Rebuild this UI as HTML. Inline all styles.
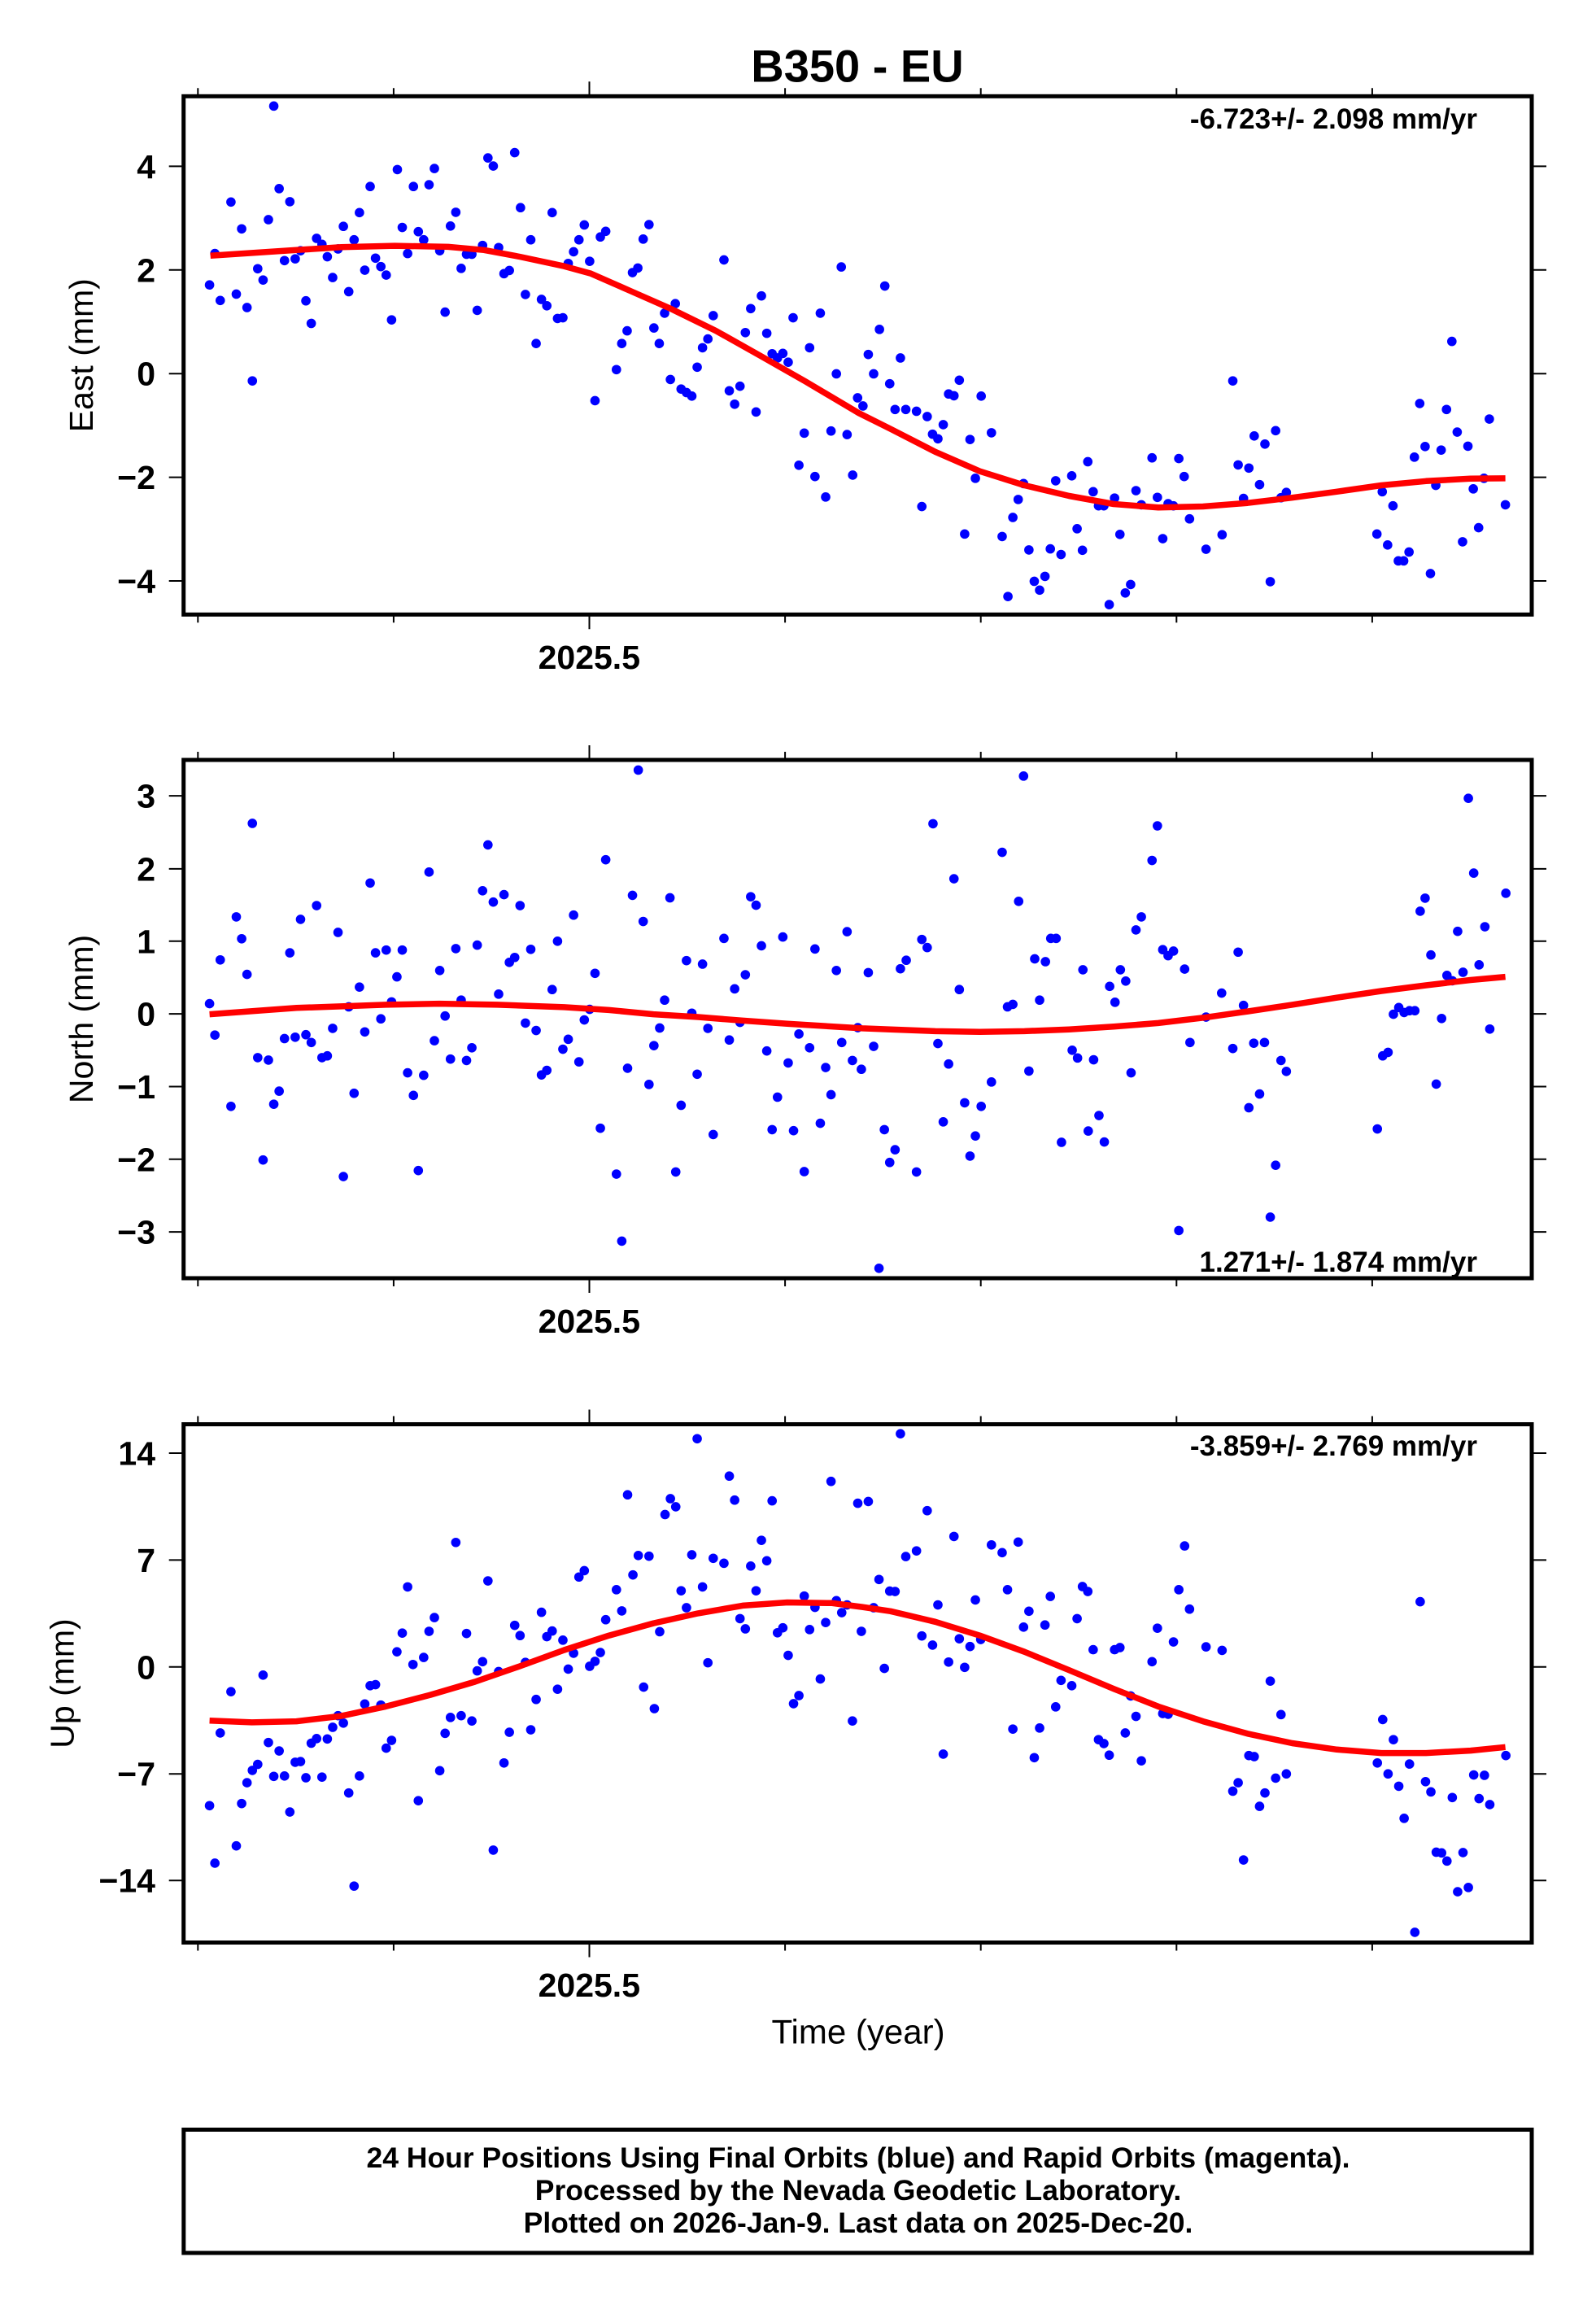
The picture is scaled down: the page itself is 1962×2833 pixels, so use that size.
<!DOCTYPE html>
<html>
<head>
<meta charset="utf-8">
<style>
html,body{margin:0;padding:0;background:#fff;}
svg{display:block;}
text{font-family:"Liberation Sans",Arial,Helvetica,sans-serif;fill:#000;}
.b{font-weight:bold;}
</style>
</head>
<body>
<svg width="1962" height="2833" viewBox="0 0 1962 2833" xmlns="http://www.w3.org/2000/svg">
<defs><ellipse id="d" cx="0" cy="0" rx="10.6" ry="13.4" fill="#0000ff"/></defs>
<rect width="1962" height="2833" fill="#fff"/>

<!-- Title -->
<text class="b" x="1054" y="100.7" font-size="56" text-anchor="middle">B350 - EU</text>

<!-- ================= PANEL 1 (East) ================= -->
<g transform="translate(200 100) scale(0.54846 0.43365)">
<use href="#d" x="249" y="70"/><use href="#d" x="789" y="202"/><use href="#d" x="729" y="217"/><use href="#d" x="741" y="240"/><use href="#d" x="526" y="250"/><use href="#d" x="609" y="247"/><use href="#d" x="261" y="304"/><use href="#d" x="465" y="298"/><use href="#d" x="562" y="298"/><use href="#d" x="597" y="293"/><use href="#d" x="153" y="342"/><use href="#d" x="285" y="341"/><use href="#d" x="441" y="372"/><use href="#d" x="657" y="371"/><use href="#d" x="873" y="372"/><use href="#d" x="802" y="358"/><use href="#d" x="237" y="392"/><use href="#d" x="177" y="418"/><use href="#d" x="405" y="411"/><use href="#d" x="537" y="414"/><use href="#d" x="645" y="410"/><use href="#d" x="945" y="407"/><use href="#d" x="1090" y="406"/><use href="#d" x="573" y="426"/><use href="#d" x="993" y="425"/><use href="#d" x="345" y="445"/><use href="#d" x="429" y="449"/><use href="#d" x="585" y="449"/><use href="#d" x="825" y="449"/><use href="#d" x="933" y="449"/><use href="#d" x="981" y="441"/><use href="#d" x="1077" y="447"/><use href="#d" x="357" y="462"/><use href="#d" x="393" y="475"/><use href="#d" x="717" y="465"/><use href="#d" x="753" y="471"/><use href="#d" x="117" y="488"/><use href="#d" x="309" y="480"/><use href="#d" x="621" y="480"/><use href="#d" x="549" y="488"/><use href="#d" x="681" y="490"/><use href="#d" x="693" y="490"/><use href="#d" x="921" y="483"/><use href="#d" x="369" y="497"/><use href="#d" x="273" y="508"/><use href="#d" x="297" y="503"/><use href="#d" x="477" y="501"/><use href="#d" x="909" y="516"/><use href="#d" x="957" y="510"/><use href="#d" x="1258" y="506"/><use href="#d" x="1521" y="526"/><use href="#d" x="213" y="531"/><use href="#d" x="489" y="525"/><use href="#d" x="453" y="535"/><use href="#d" x="669" y="530"/><use href="#d" x="501" y="549"/><use href="#d" x="765" y="545"/><use href="#d" x="777" y="536"/><use href="#d" x="1053" y="542"/><use href="#d" x="1065" y="529"/><use href="#d" x="105" y="577"/><use href="#d" x="225" y="563"/><use href="#d" x="381" y="556"/><use href="#d" x="165" y="603"/><use href="#d" x="129" y="621"/><use href="#d" x="417" y="596"/><use href="#d" x="813" y="604"/><use href="#d" x="1342" y="608"/><use href="#d" x="189" y="641"/><use href="#d" x="321" y="622"/><use href="#d" x="849" y="618"/><use href="#d" x="861" y="636"/><use href="#d" x="1149" y="630"/><use href="#d" x="1318" y="644"/><use href="#d" x="633" y="654"/><use href="#d" x="705" y="649"/><use href="#d" x="1125" y="657"/><use href="#d" x="1234" y="664"/><use href="#d" x="1474" y="657"/><use href="#d" x="1413" y="670"/><use href="#d" x="333" y="686"/><use href="#d" x="513" y="676"/><use href="#d" x="885" y="672"/><use href="#d" x="897" y="670"/><use href="#d" x="1041" y="707"/><use href="#d" x="1101" y="699"/><use href="#d" x="1306" y="712"/><use href="#d" x="1354" y="714"/><use href="#d" x="1222" y="730"/><use href="#d" x="837" y="743"/><use href="#d" x="1029" y="743"/><use href="#d" x="1113" y="743"/><use href="#d" x="1210" y="755"/><use href="#d" x="1450" y="755"/><use href="#d" x="1366" y="772"/><use href="#d" x="1378" y="784"/><use href="#d" x="1390" y="771"/><use href="#d" x="1402" y="796"/><use href="#d" x="1198" y="810"/><use href="#d" x="1510" y="829"/><use href="#d" x="1017" y="817"/><use href="#d" x="201" y="849"/><use href="#d" x="1138" y="845"/><use href="#d" x="1162" y="872"/><use href="#d" x="1174" y="882"/><use href="#d" x="1186" y="892"/><use href="#d" x="1294" y="864"/><use href="#d" x="1270" y="877"/><use href="#d" x="1282" y="915"/><use href="#d" x="969" y="905"/><use href="#d" x="1330" y="937"/><use href="#d" x="1438" y="997"/><use href="#d" x="1498" y="991"/><use href="#d" x="1534" y="1001"/><use href="#d" x="1426" y="1088"/><use href="#d" x="1462" y="1120"/><use href="#d" x="1486" y="1178"/>
</g>
<g transform="translate(1040 100) scale(0.54846 0.43365)">
<use href="#d" x="87" y="580"/><use href="#d" x="75" y="703"/><use href="#d" x="50" y="774"/><use href="#d" x="122" y="784"/><use href="#d" x="62" y="829"/><use href="#d" x="98" y="857"/><use href="#d" x="254" y="847"/><use href="#d" x="26" y="897"/><use href="#d" x="38" y="920"/><use href="#d" x="110" y="930"/><use href="#d" x="134" y="930"/><use href="#d" x="158" y="935"/><use href="#d" x="182" y="950"/><use href="#d" x="230" y="886"/><use href="#d" x="242" y="891"/><use href="#d" x="303" y="892"/><use href="#d" x="218" y="973"/><use href="#d" x="194" y="1000"/><use href="#d" x="206" y="1013"/><use href="#d" x="278" y="1015"/><use href="#d" x="326" y="996"/><use href="#d" x="15" y="1116"/><use href="#d" x="170" y="1205"/><use href="#d" x="290" y="1125"/><use href="#d" x="266" y="1283"/><use href="#d" x="350" y="1290"/><use href="#d" x="374" y="1236"/><use href="#d" x="386" y="1185"/><use href="#d" x="398" y="1140"/><use href="#d" x="410" y="1328"/><use href="#d" x="422" y="1417"/><use href="#d" x="434" y="1442"/><use href="#d" x="446" y="1403"/><use href="#d" x="363" y="1460"/><use href="#d" x="458" y="1325"/><use href="#d" x="470" y="1132"/><use href="#d" x="482" y="1341"/><use href="#d" x="506" y="1118"/><use href="#d" x="518" y="1268"/><use href="#d" x="530" y="1329"/><use href="#d" x="542" y="1078"/><use href="#d" x="554" y="1163"/><use href="#d" x="566" y="1203"/><use href="#d" x="578" y="1203"/><use href="#d" x="590" y="1483"/><use href="#d" x="602" y="1181"/><use href="#d" x="614" y="1284"/><use href="#d" x="626" y="1450"/><use href="#d" x="638" y="1426"/><use href="#d" x="650" y="1160"/><use href="#d" x="662" y="1200"/><use href="#d" x="686" y="1067"/><use href="#d" x="698" y="1179"/><use href="#d" x="710" y="1296"/><use href="#d" x="722" y="1197"/><use href="#d" x="734" y="1203"/><use href="#d" x="746" y="1069"/><use href="#d" x="758" y="1120"/><use href="#d" x="770" y="1240"/><use href="#d" x="807" y="1326"/><use href="#d" x="843" y="1285"/><use href="#d" x="867" y="849"/><use href="#d" x="879" y="1087"/><use href="#d" x="891" y="1182"/><use href="#d" x="903" y="1096"/><use href="#d" x="915" y="1005"/><use href="#d" x="927" y="1143"/><use href="#d" x="939" y="1028"/><use href="#d" x="951" y="1418"/><use href="#d" x="963" y="990"/><use href="#d" x="975" y="1180"/><use href="#d" x="987" y="1165"/><use href="#d" x="1190" y="1283"/><use href="#d" x="1202" y="1163"/><use href="#d" x="1214" y="1314"/><use href="#d" x="1226" y="1203"/><use href="#d" x="1238" y="1359"/><use href="#d" x="1250" y="1359"/><use href="#d" x="1262" y="1334"/><use href="#d" x="1274" y="1065"/><use href="#d" x="1286" y="913"/><use href="#d" x="1298" y="1035"/><use href="#d" x="1310" y="1395"/><use href="#d" x="1322" y="1145"/><use href="#d" x="1334" y="1045"/><use href="#d" x="1346" y="930"/><use href="#d" x="1358" y="737"/><use href="#d" x="1370" y="994"/><use href="#d" x="1382" y="1305"/><use href="#d" x="1394" y="1034"/><use href="#d" x="1406" y="1155"/><use href="#d" x="1418" y="1265"/><use href="#d" x="1430" y="1125"/><use href="#d" x="1442" y="957"/><use href="#d" x="1478" y="1200"/>
</g>
<path d="M258.7 314.2 L364.5 307.3 L419.4 303.8 L485.2 302.1 L551 303.4 L594.9 307.3 L638.8 315.5 L693.6 327.2 L726.5 336.3 L775.9 358 L825.2 379.7 L880.1 406.6 L934.9 437.4 L989.8 468.6 L1055.6 507.6 L1094.8 527.2 L1149.7 555.3 L1204.5 579.2 L1259.4 596.5 L1314.2 609.5 L1369.1 619.5 L1423.9 623.8 L1478.8 622.5 L1533.6 618.2 L1588.5 611.7 L1643.3 604.3 L1698.2 596.5 L1753 591.3 L1807.8 588.3 L1850.6 587.9" fill="none" stroke="#ff0000" stroke-width="7.5" stroke-linejoin="round"/>

<!-- ================= PANEL 2 (North) ================= -->
<g transform="translate(200 917) scale(0.54846 0.43365)">
<use href="#d" x="1066" y="68"/><use href="#d" x="201" y="219"/><use href="#d" x="729" y="280"/><use href="#d" x="993" y="322"/><use href="#d" x="597" y="357"/><use href="#d" x="465" y="388"/><use href="#d" x="717" y="410"/><use href="#d" x="741" y="442"/><use href="#d" x="765" y="421"/><use href="#d" x="801" y="452"/><use href="#d" x="1053" y="423"/><use href="#d" x="1137" y="430"/><use href="#d" x="1318" y="427"/><use href="#d" x="1330" y="451"/><use href="#d" x="345" y="452"/><use href="#d" x="165" y="484"/><use href="#d" x="309" y="491"/><use href="#d" x="921" y="479"/><use href="#d" x="1077" y="497"/><use href="#d" x="393" y="528"/><use href="#d" x="177" y="546"/><use href="#d" x="1258" y="545"/><use href="#d" x="1390" y="541"/><use href="#d" x="1534" y="526"/><use href="#d" x="885" y="553"/><use href="#d" x="705" y="564"/><use href="#d" x="657" y="574"/><use href="#d" x="825" y="576"/><use href="#d" x="537" y="578"/><use href="#d" x="501" y="578"/><use href="#d" x="477" y="586"/><use href="#d" x="285" y="586"/><use href="#d" x="1342" y="566"/><use href="#d" x="1462" y="575"/><use href="#d" x="789" y="599"/><use href="#d" x="777" y="613"/><use href="#d" x="1174" y="608"/><use href="#d" x="1210" y="618"/><use href="#d" x="129" y="606"/><use href="#d" x="621" y="636"/><use href="#d" x="969" y="644"/><use href="#d" x="1510" y="636"/><use href="#d" x="189" y="647"/><use href="#d" x="1306" y="648"/><use href="#d" x="525" y="654"/><use href="#d" x="441" y="683"/><use href="#d" x="873" y="690"/><use href="#d" x="1282" y="688"/><use href="#d" x="753" y="703"/><use href="#d" x="1125" y="720"/><use href="#d" x="669" y="720"/><use href="#d" x="513" y="725"/><use href="#d" x="105" y="730"/><use href="#d" x="417" y="739"/><use href="#d" x="957" y="746"/><use href="#d" x="1186" y="757"/><use href="#d" x="633" y="765"/><use href="#d" x="489" y="773"/><use href="#d" x="945" y="776"/><use href="#d" x="813" y="785"/><use href="#d" x="1294" y="783"/><use href="#d" x="1558" y="798"/><use href="#d" x="381" y="800"/><use href="#d" x="837" y="806"/><use href="#d" x="1222" y="800"/><use href="#d" x="1114" y="799"/><use href="#d" x="117" y="819"/><use href="#d" x="321" y="818"/><use href="#d" x="453" y="810"/><use href="#d" x="1426" y="816"/><use href="#d" x="273" y="829"/><use href="#d" x="297" y="825"/><use href="#d" x="333" y="840"/><use href="#d" x="609" y="835"/><use href="#d" x="909" y="831"/><use href="#d" x="1270" y="833"/><use href="#d" x="1522" y="840"/><use href="#d" x="1450" y="855"/><use href="#d" x="693" y="855"/><use href="#d" x="1101" y="849"/><use href="#d" x="1354" y="864"/><use href="#d" x="897" y="859"/><use href="#d" x="213" y="883"/><use href="#d" x="237" y="890"/><use href="#d" x="357" y="883"/><use href="#d" x="369" y="878"/><use href="#d" x="645" y="887"/><use href="#d" x="681" y="891"/><use href="#d" x="933" y="895"/><use href="#d" x="1402" y="898"/><use href="#d" x="1546" y="891"/><use href="#d" x="1566" y="916"/><use href="#d" x="1042" y="913"/><use href="#d" x="1486" y="911"/><use href="#d" x="549" y="926"/><use href="#d" x="585" y="933"/><use href="#d" x="849" y="932"/><use href="#d" x="861" y="919"/><use href="#d" x="1198" y="930"/><use href="#d" x="1090" y="959"/><use href="#d" x="261" y="978"/><use href="#d" x="429" y="984"/><use href="#d" x="562" y="990"/><use href="#d" x="1378" y="995"/><use href="#d" x="1498" y="988"/><use href="#d" x="249" y="1015"/><use href="#d" x="153" y="1021"/><use href="#d" x="1162" y="1018"/><use href="#d" x="981" y="1083"/><use href="#d" x="1474" y="1069"/><use href="#d" x="1366" y="1087"/><use href="#d" x="1414" y="1090"/><use href="#d" x="1234" y="1101"/><use href="#d" x="225" y="1173"/><use href="#d" x="405" y="1220"/><use href="#d" x="573" y="1203"/><use href="#d" x="1017" y="1213"/><use href="#d" x="1150" y="1207"/><use href="#d" x="1438" y="1206"/><use href="#d" x="1029" y="1403"/>
</g>
<g transform="translate(1040 917) scale(0.54846 0.43365)">
<use href="#d" x="398" y="85"/><use href="#d" x="1395" y="148"/><use href="#d" x="195" y="220"/><use href="#d" x="698" y="226"/><use href="#d" x="350" y="301"/><use href="#d" x="686" y="324"/><use href="#d" x="242" y="376"/><use href="#d" x="1407" y="360"/><use href="#d" x="387" y="440"/><use href="#d" x="1479" y="417"/><use href="#d" x="1298" y="431"/><use href="#d" x="1287" y="468"/><use href="#d" x="662" y="484"/><use href="#d" x="650" y="521"/><use href="#d" x="1432" y="512"/><use href="#d" x="1371" y="525"/><use href="#d" x="459" y="545"/><use href="#d" x="471" y="545"/><use href="#d" x="170" y="548"/><use href="#d" x="182" y="571"/><use href="#d" x="710" y="577"/><use href="#d" x="722" y="594"/><use href="#d" x="734" y="581"/><use href="#d" x="879" y="584"/><use href="#d" x="1311" y="592"/><use href="#d" x="135" y="607"/><use href="#d" x="122" y="631"/><use href="#d" x="423" y="603"/><use href="#d" x="447" y="611"/><use href="#d" x="531" y="634"/><use href="#d" x="615" y="634"/><use href="#d" x="759" y="632"/><use href="#d" x="1419" y="620"/><use href="#d" x="50" y="642"/><use href="#d" x="1383" y="641"/><use href="#d" x="1347" y="650"/><use href="#d" x="1359" y="665"/><use href="#d" x="591" y="681"/><use href="#d" x="627" y="666"/><use href="#d" x="254" y="690"/><use href="#d" x="842" y="700"/><use href="#d" x="434" y="720"/><use href="#d" x="362" y="739"/><use href="#d" x="374" y="732"/><use href="#d" x="603" y="726"/><use href="#d" x="891" y="735"/><use href="#d" x="1239" y="741"/><use href="#d" x="1227" y="760"/><use href="#d" x="1251" y="755"/><use href="#d" x="1263" y="750"/><use href="#d" x="1275" y="750"/><use href="#d" x="807" y="768"/><use href="#d" x="1335" y="772"/><use href="#d" x="1443" y="802"/><use href="#d" x="62" y="851"/><use href="#d" x="206" y="843"/><use href="#d" x="771" y="840"/><use href="#d" x="867" y="857"/><use href="#d" x="914" y="842"/><use href="#d" x="938" y="840"/><use href="#d" x="507" y="862"/><use href="#d" x="519" y="884"/><use href="#d" x="555" y="889"/><use href="#d" x="230" y="901"/><use href="#d" x="975" y="891"/><use href="#d" x="987" y="922"/><use href="#d" x="410" y="921"/><use href="#d" x="639" y="926"/><use href="#d" x="1203" y="878"/><use href="#d" x="1215" y="868"/><use href="#d" x="326" y="952"/><use href="#d" x="1323" y="958"/><use href="#d" x="266" y="1011"/><use href="#d" x="303" y="1021"/><use href="#d" x="927" y="986"/><use href="#d" x="903" y="1025"/><use href="#d" x="218" y="1065"/><use href="#d" x="86" y="1087"/><use href="#d" x="567" y="1047"/><use href="#d" x="543" y="1091"/><use href="#d" x="1191" y="1085"/><use href="#d" x="290" y="1105"/><use href="#d" x="110" y="1144"/><use href="#d" x="98" y="1180"/><use href="#d" x="483" y="1123"/><use href="#d" x="579" y="1122"/><use href="#d" x="278" y="1162"/><use href="#d" x="158" y="1207"/><use href="#d" x="963" y="1188"/><use href="#d" x="951" y="1335"/><use href="#d" x="746" y="1373"/><use href="#d" x="74" y="1480"/>
</g>
<path d="M257.6 1246.6 L364.5 1238.8 L474.2 1234.9 L540 1233.6 L611.3 1234.9 L693.6 1237.9 L748.5 1241.4 L803.3 1246.6 L858.2 1250 L913 1254.4 L967.8 1258.3 L1060 1263.9 L1094.8 1265.2 L1149.7 1267.4 L1204.5 1268.3 L1259.4 1267.4 L1314.2 1265.2 L1369.1 1261.8 L1423.9 1257.4 L1478.8 1250.9 L1533.6 1243.1 L1588.5 1234.9 L1643.3 1226.2 L1698.2 1218 L1753 1211 L1807.8 1204.5 L1850.6 1200.6" fill="none" stroke="#ff0000" stroke-width="7.5" stroke-linejoin="round"/>

<!-- ================= PANEL 3 (Up) ================= -->
<g transform="translate(200 1734) scale(0.54846 0.43365)">
<use href="#d" x="1198" y="79"/><use href="#d" x="1270" y="185"/><use href="#d" x="1498" y="200"/><use href="#d" x="1042" y="238"/><use href="#d" x="1138" y="249"/><use href="#d" x="1150" y="272"/><use href="#d" x="1126" y="294"/><use href="#d" x="1282" y="253"/><use href="#d" x="1366" y="255"/><use href="#d" x="1558" y="262"/><use href="#d" x="657" y="373"/><use href="#d" x="1342" y="367"/><use href="#d" x="1066" y="410"/><use href="#d" x="1090" y="412"/><use href="#d" x="1186" y="408"/><use href="#d" x="1234" y="418"/><use href="#d" x="1258" y="432"/><use href="#d" x="1318" y="440"/><use href="#d" x="1354" y="425"/><use href="#d" x="945" y="453"/><use href="#d" x="933" y="471"/><use href="#d" x="1054" y="465"/><use href="#d" x="729" y="482"/><use href="#d" x="549" y="499"/><use href="#d" x="1210" y="499"/><use href="#d" x="1017" y="507"/><use href="#d" x="1162" y="510"/><use href="#d" x="1330" y="510"/><use href="#d" x="1438" y="525"/><use href="#d" x="1510" y="538"/><use href="#d" x="1534" y="550"/><use href="#d" x="1462" y="557"/><use href="#d" x="1174" y="558"/><use href="#d" x="1029" y="567"/><use href="#d" x="849" y="571"/><use href="#d" x="609" y="586"/><use href="#d" x="1522" y="572"/><use href="#d" x="993" y="592"/><use href="#d" x="1294" y="589"/><use href="#d" x="1486" y="600"/><use href="#d" x="537" y="630"/><use href="#d" x="597" y="625"/><use href="#d" x="681" y="631"/><use href="#d" x="789" y="608"/><use href="#d" x="801" y="637"/><use href="#d" x="861" y="640"/><use href="#d" x="873" y="624"/><use href="#d" x="1114" y="626"/><use href="#d" x="1306" y="618"/><use href="#d" x="1378" y="629"/><use href="#d" x="1390" y="615"/><use href="#d" x="1450" y="620"/><use href="#d" x="1566" y="625"/><use href="#d" x="897" y="650"/><use href="#d" x="525" y="683"/><use href="#d" x="981" y="685"/><use href="#d" x="921" y="687"/><use href="#d" x="1402" y="693"/><use href="#d" x="585" y="699"/><use href="#d" x="561" y="719"/><use href="#d" x="717" y="711"/><use href="#d" x="813" y="713"/><use href="#d" x="969" y="710"/><use href="#d" x="1222" y="714"/><use href="#d" x="705" y="737"/><use href="#d" x="753" y="739"/><use href="#d" x="909" y="732"/><use href="#d" x="957" y="724"/><use href="#d" x="225" y="749"/><use href="#d" x="1474" y="760"/><use href="#d" x="465" y="779"/><use href="#d" x="477" y="776"/><use href="#d" x="885" y="789"/><use href="#d" x="1078" y="783"/><use href="#d" x="153" y="796"/><use href="#d" x="1426" y="807"/><use href="#d" x="1414" y="830"/><use href="#d" x="453" y="831"/><use href="#d" x="489" y="834"/><use href="#d" x="837" y="818"/><use href="#d" x="1102" y="844"/><use href="#d" x="393" y="864"/><use href="#d" x="645" y="869"/><use href="#d" x="669" y="864"/><use href="#d" x="693" y="879"/><use href="#d" x="1546" y="879"/><use href="#d" x="405" y="885"/><use href="#d" x="381" y="897"/><use href="#d" x="129" y="913"/><use href="#d" x="633" y="914"/><use href="#d" x="777" y="911"/><use href="#d" x="825" y="904"/><use href="#d" x="237" y="940"/><use href="#d" x="333" y="942"/><use href="#d" x="345" y="929"/><use href="#d" x="369" y="930"/><use href="#d" x="513" y="934"/><use href="#d" x="501" y="956"/><use href="#d" x="261" y="964"/><use href="#d" x="213" y="1002"/><use href="#d" x="201" y="1019"/><use href="#d" x="297" y="996"/><use href="#d" x="309" y="994"/><use href="#d" x="765" y="998"/><use href="#d" x="189" y="1054"/><use href="#d" x="249" y="1036"/><use href="#d" x="273" y="1035"/><use href="#d" x="321" y="1040"/><use href="#d" x="357" y="1038"/><use href="#d" x="441" y="1035"/><use href="#d" x="621" y="1020"/><use href="#d" x="417" y="1083"/><use href="#d" x="105" y="1119"/><use href="#d" x="177" y="1113"/><use href="#d" x="573" y="1105"/><use href="#d" x="285" y="1137"/><use href="#d" x="165" y="1233"/><use href="#d" x="117" y="1282"/><use href="#d" x="741" y="1245"/><use href="#d" x="429" y="1347"/>
</g>
<g transform="translate(1040 1734) scale(0.54846 0.43365)">
<use href="#d" x="122" y="65"/><use href="#d" x="50" y="257"/><use href="#d" x="182" y="283"/><use href="#d" x="242" y="356"/><use href="#d" x="326" y="380"/><use href="#d" x="350" y="402"/><use href="#d" x="386" y="372"/><use href="#d" x="759" y="383"/><use href="#d" x="134" y="413"/><use href="#d" x="158" y="397"/><use href="#d" x="74" y="478"/><use href="#d" x="98" y="511"/><use href="#d" x="110" y="512"/><use href="#d" x="362" y="507"/><use href="#d" x="530" y="498"/><use href="#d" x="542" y="512"/><use href="#d" x="746" y="507"/><use href="#d" x="458" y="526"/><use href="#d" x="290" y="536"/><use href="#d" x="206" y="550"/><use href="#d" x="62" y="558"/><use href="#d" x="770" y="562"/><use href="#d" x="1287" y="541"/><use href="#d" x="410" y="568"/><use href="#d" x="518" y="589"/><use href="#d" x="398" y="613"/><use href="#d" x="446" y="607"/><use href="#d" x="698" y="616"/><use href="#d" x="170" y="638"/><use href="#d" x="194" y="664"/><use href="#d" x="254" y="646"/><use href="#d" x="278" y="668"/><use href="#d" x="302" y="648"/><use href="#d" x="554" y="677"/><use href="#d" x="602" y="677"/><use href="#d" x="614" y="671"/><use href="#d" x="734" y="655"/><use href="#d" x="807" y="669"/><use href="#d" x="843" y="679"/><use href="#d" x="86" y="730"/><use href="#d" x="230" y="712"/><use href="#d" x="266" y="727"/><use href="#d" x="686" y="711"/><use href="#d" x="951" y="766"/><use href="#d" x="482" y="764"/><use href="#d" x="506" y="779"/><use href="#d" x="638" y="808"/><use href="#d" x="470" y="839"/><use href="#d" x="650" y="866"/><use href="#d" x="710" y="858"/><use href="#d" x="722" y="860"/><use href="#d" x="975" y="861"/><use href="#d" x="1203" y="875"/><use href="#d" x="374" y="902"/><use href="#d" x="434" y="899"/><use href="#d" x="626" y="913"/><use href="#d" x="566" y="932"/><use href="#d" x="578" y="943"/><use href="#d" x="1227" y="932"/><use href="#d" x="218" y="973"/><use href="#d" x="422" y="983"/><use href="#d" x="590" y="976"/><use href="#d" x="662" y="992"/><use href="#d" x="903" y="977"/><use href="#d" x="915" y="980"/><use href="#d" x="1479" y="977"/><use href="#d" x="1191" y="998"/><use href="#d" x="1215" y="1029"/><use href="#d" x="1263" y="1001"/><use href="#d" x="963" y="1041"/><use href="#d" x="987" y="1029"/><use href="#d" x="879" y="1054"/><use href="#d" x="867" y="1078"/><use href="#d" x="939" y="1083"/><use href="#d" x="1239" y="1064"/><use href="#d" x="1299" y="1051"/><use href="#d" x="1311" y="1080"/><use href="#d" x="1359" y="1096"/><use href="#d" x="1407" y="1032"/><use href="#d" x="1431" y="1033"/><use href="#d" x="1419" y="1099"/><use href="#d" x="1443" y="1116"/><use href="#d" x="927" y="1121"/><use href="#d" x="1251" y="1155"/><use href="#d" x="891" y="1273"/><use href="#d" x="1323" y="1251"/><use href="#d" x="1335" y="1253"/><use href="#d" x="1347" y="1276"/><use href="#d" x="1383" y="1252"/><use href="#d" x="1371" y="1363"/><use href="#d" x="1395" y="1351"/><use href="#d" x="1275" y="1478"/>
</g>
<path d="M257.6 2114.7 L309.7 2116.9 L364.5 2115.6 L419.4 2109.1 L474.2 2097.4 L529.1 2083.1 L583.9 2067 L638.8 2048 L693.6 2028 L748.5 2010.2 L803.3 1995.1 L858.2 1982.9 L913 1973.4 L967.8 1969.5 L1022.7 1970.3 L1060 1975.1 L1094.8 1980.3 L1149.7 1993.3 L1204.5 2010.2 L1259.4 2030.2 L1314.2 2052.7 L1369.1 2075.7 L1423.9 2097.4 L1478.8 2115.6 L1533.6 2130.8 L1588.5 2142.5 L1643.3 2150.3 L1698.2 2154.6 L1753 2154.6 L1807.8 2151.6 L1850.6 2147.3" fill="none" stroke="#ff0000" stroke-width="7.5" stroke-linejoin="round"/>

<!-- ================= FRAMES & TICKS ================= -->
<g fill="none" stroke="#000" stroke-width="5">
<rect x="225.7" y="118.3" width="1657.3" height="637"/>
<rect x="225.7" y="934" width="1657.3" height="637"/>
<rect x="225.7" y="1750.5" width="1657.3" height="637"/>
<rect x="225.8" y="2617.5" width="1657.2" height="151.5"/>
</g>
<g stroke="#000" stroke-width="2">
<path d="M243.3 118.3V108.3M483.9 118.3V108.3M724.5 118.3V100.3M965.1 118.3V108.3M1205.7 118.3V108.3M1446.3 118.3V108.3M1686.9 118.3V108.3"/>
<path d="M243.3 755.3V765.3M483.9 755.3V765.3M724.5 755.3V773.3M965.1 755.3V765.3M1205.7 755.3V765.3M1446.3 755.3V765.3M1686.9 755.3V765.3"/>
<path d="M207.7 204.4H225.7M207.7 331.8H225.7M207.7 459.2H225.7M207.7 586.6H225.7M207.7 714H225.7"/>
<path d="M1883 204.4H1901M1883 331.8H1901M1883 459.2H1901M1883 586.6H1901M1883 714H1901"/>
<path d="M243.3 934V924M483.9 934V924M724.5 934V916M965.1 934V924M1205.7 934V924M1446.3 934V924M1686.9 934V924"/>
<path d="M243.3 1571V1581M483.9 1571V1581M724.5 1571V1589M965.1 1571V1581M1205.7 1571V1581M1446.3 1571V1581M1686.9 1571V1581"/>
<path d="M207.7 978.1H225.7M207.7 1067.9H225.7M207.7 1156.8H225.7M207.7 1246.1H225.7M207.7 1335.5H225.7M207.7 1424.8H225.7M207.7 1514.1H225.7"/>
<path d="M1883 978.1H1901M1883 1067.9H1901M1883 1156.8H1901M1883 1246.1H1901M1883 1335.5H1901M1883 1424.8H1901M1883 1514.1H1901"/>
<path d="M243.3 1750.5V1740.5M483.9 1750.5V1740.5M724.5 1750.5V1732.5M965.1 1750.5V1740.5M1205.7 1750.5V1740.5M1446.3 1750.5V1740.5M1686.9 1750.5V1740.5"/>
<path d="M243.3 2387.5V2397.5M483.9 2387.5V2397.5M724.5 2387.5V2405.5M965.1 2387.5V2397.5M1205.7 2387.5V2397.5M1446.3 2387.5V2397.5M1686.9 2387.5V2397.5"/>
<path d="M207.7 1786H225.7M207.7 1917.4H225.7M207.7 2048.8H225.7M207.7 2180.2H225.7M207.7 2311.2H225.7"/>
<path d="M1883 1786H1901M1883 1917.4H1901M1883 2048.8H1901M1883 2180.2H1901M1883 2311.2H1901"/>
</g>

<!-- ================= TICK LABELS ================= -->
<g font-size="41" text-anchor="end" font-weight="bold">
<text x="191" y="218.9">4</text>
<text x="191" y="346.3">2</text>
<text x="191" y="473.7">0</text>
<text x="191" y="601.1">−2</text>
<text x="191" y="728.5">−4</text>

<text x="191" y="992.6">3</text>
<text x="191" y="1082.4">2</text>
<text x="191" y="1171.3">1</text>
<text x="191" y="1260.6">0</text>
<text x="191" y="1350">−1</text>
<text x="191" y="1439.3">−2</text>
<text x="191" y="1528.6">−3</text>

<text x="191" y="1800.5">14</text>
<text x="191" y="1931.9">7</text>
<text x="191" y="2063.3">0</text>
<text x="191" y="2194.7">−7</text>
<text x="191" y="2325.7">−14</text>
</g>
<g font-size="41" text-anchor="middle" font-weight="bold">
<text x="724.3" y="822">2025.5</text>
<text x="724.3" y="1638">2025.5</text>
<text x="724.3" y="2454">2025.5</text>
</g>

<!-- axis labels -->
<g font-size="41" text-anchor="middle">
<text transform="translate(114 436.7) rotate(-90)">East (mm)</text>
<text transform="translate(114 1252.5) rotate(-90)">North (mm)</text>
<text transform="translate(90.5 2069) rotate(-90)">Up (mm)</text>
<text x="1055" y="2511.7" font-size="42">Time (year)</text>
</g>

<!-- rate annotations -->
<g font-size="35" text-anchor="end" font-weight="bold">
<text x="1816" y="158">-6.723+/- 2.098 mm/yr</text>
<text x="1816" y="1563">1.271+/- 1.874 mm/yr</text>
<text x="1816" y="1789">-3.859+/- 2.769 mm/yr</text>
</g>

<!-- footer -->
<g font-size="35.5" text-anchor="middle" font-weight="bold">
<text x="1055" y="2664">24 Hour Positions Using Final Orbits (blue) and Rapid Orbits (magenta).</text>
<text x="1055" y="2704">Processed by the Nevada Geodetic Laboratory.</text>
<text x="1055" y="2744">Plotted on 2026-Jan-9. Last data on 2025-Dec-20.</text>
</g>
</svg>
</body>
</html>
